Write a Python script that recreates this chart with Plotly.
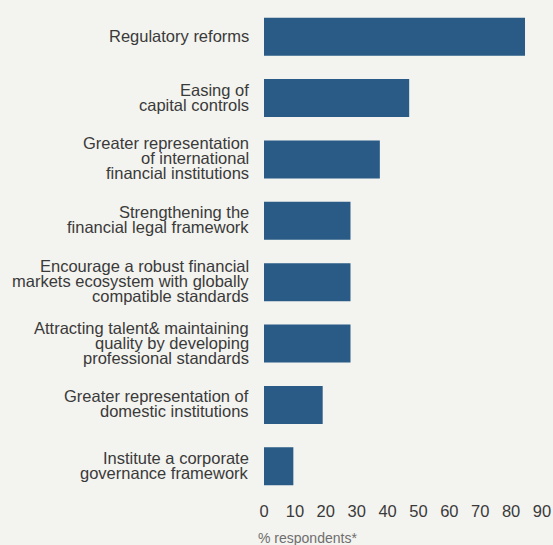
import plotly.graph_objects as go

# Survey: measures to strengthen the financial centre
categories = [
    "Regulatory reforms",
    "Easing of<br>capital controls",
    "Greater representation<br>of international<br>financial institutions",
    "Strengthening the<br>financial legal framework",
    "Encourage a robust financial<br>markets ecosystem with globally<br>compatible standards",
    "Attracting talent& maintaining<br>quality by developing<br>professional standards",
    "Greater representation of<br>domestic institutions",
    "Institute a corporate<br>governance framework",
]
values = [84.5, 47, 37.5, 28, 28, 28, 19, 9.5]
tick_vals = [0, 10, 20, 30, 40, 50, 60, 70, 80, 90]
axis_note = "% respondents*"

BG = "#f3f3ef"
BAR = "#295b86"
TEXT = "#3a3a3a"
FONT = "Liberation Sans, Arial, sans-serif"
LINE_H = 15

fig = go.Figure(
    go.Bar(
        x=values,
        y=categories,
        orientation="h",
        marker=dict(color=BAR, line=dict(width=0)),
        hoverinfo="x+y",
    )
)

# Category labels: one annotation per line for tight line spacing
annotations = []
for cat in categories:
    lines = cat.split("<br>")
    n = len(lines)
    for i, line in enumerate(lines):
        offset = ((n - 1) / 2 - i) * LINE_H + 1
        annotations.append(
            dict(
                text=line,
                xref="paper",
                yref="y",
                x=0,
                y=cat,
                xanchor="right",
                yanchor="middle",
                xshift=-14,
                yshift=offset,
                borderpad=0,
                showarrow=False,
                font=dict(family=FONT, size=16.5, color=TEXT),
            )
        )

annotations.append(
    dict(
        text=axis_note,
        xref="paper",
        yref="paper",
        x=0,
        y=0,
        xanchor="left",
        yanchor="top",
        xshift=-7,
        yshift=-32,
        borderpad=0,
        showarrow=False,
        font=dict(family=FONT, size=14, color="#6e6e6e"),
    )
)

fig.update_layout(
    width=553,
    height=545,
    margin=dict(l=264, r=11, t=6, b=48, autoexpand=False),
    paper_bgcolor=BG,
    plot_bgcolor=BG,
    bargap=0.38,
    showlegend=False,
    annotations=annotations,
    xaxis=dict(
        range=[0, 90],
        tickvals=tick_vals,
        showgrid=False,
        zeroline=False,
        showline=False,
        ticks="",
        automargin=False,
        tickfont=dict(family=FONT, size=16.5, color=TEXT),
        ticklabelstandoff=2,
    ),
    yaxis=dict(
        categoryorder="array",
        categoryarray=categories,
        autorange="reversed",
        automargin=False,
        showticklabels=False,
        showgrid=False,
        zeroline=False,
        showline=False,
        ticks="",
    ),
)

fig.write_html("out.html")
